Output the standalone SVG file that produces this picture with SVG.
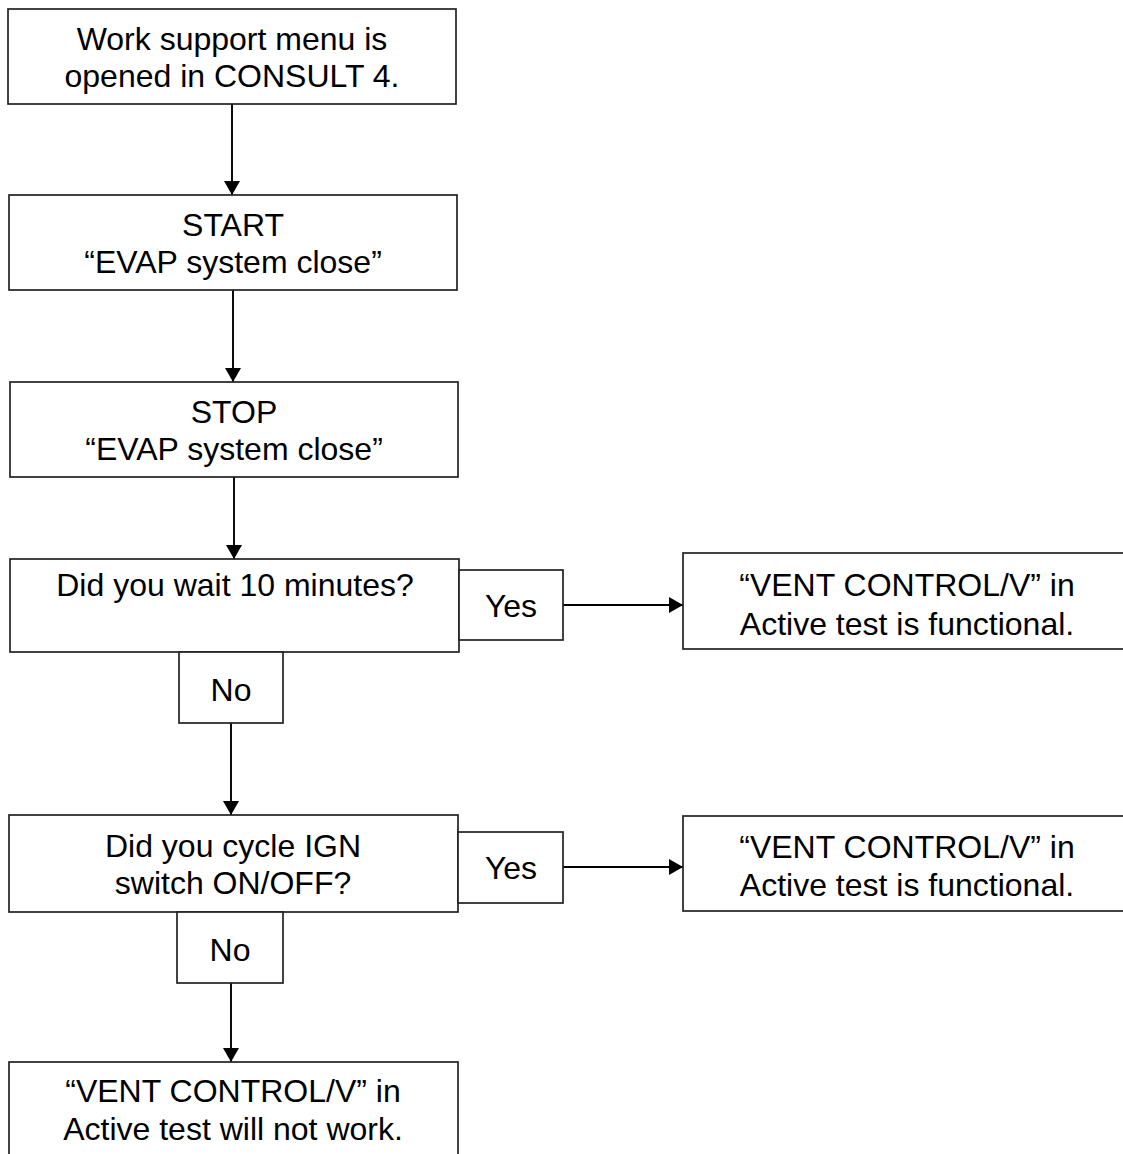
<svg xmlns="http://www.w3.org/2000/svg" width="1123" height="1154" viewBox="0 0 1123 1154">
<style>
  .box { fill: #ffffff; stroke: #222222; stroke-width: 1.7; }
  .t { font-family: "Liberation Sans", Arial, sans-serif; font-size: 32px; fill: #000000; text-anchor: middle; }
  .edge { stroke: #000000; stroke-width: 1.9; fill: none; marker-end: url(#arr); }
</style>
<defs>
  <marker id="arr" viewBox="0 0 14 16" refX="14" refY="8" markerWidth="14" markerHeight="16" markerUnits="userSpaceOnUse" orient="auto">
    <path d="M0,0 L14,8 L0,16 z" fill="#000000"/>
  </marker>
</defs>
<rect width="1123" height="1154" fill="#ffffff"/>

<g id="connectors">
  <line class="edge" x1="232" y1="104" x2="232" y2="195"/>
  <line class="edge" x1="233" y1="290" x2="233" y2="382"/>
  <line class="edge" x1="234" y1="477" x2="234" y2="559"/>
  <line class="edge" x1="563" y1="605" x2="683" y2="605"/>
  <line class="edge" x1="231" y1="723" x2="231" y2="815"/>
  <line class="edge" x1="563" y1="867" x2="683" y2="867"/>
  <line class="edge" x1="231" y1="983" x2="231" y2="1062"/>
</g>

<g id="n1">
  <rect class="box" x="8" y="9" width="448" height="95"/>
  <text class="t" x="232" y="50">Work support menu is</text>
  <text class="t" x="232" y="87">opened in CONSULT 4.</text>
</g>
<g id="n2">
  <rect class="box" x="9" y="195" width="448" height="95"/>
  <text class="t" x="233" y="236">START</text>
  <text class="t" x="233" y="273">“EVAP system close”</text>
</g>
<g id="n3">
  <rect class="box" x="10" y="382" width="448" height="95"/>
  <text class="t" x="234" y="423">STOP</text>
  <text class="t" x="234" y="460">“EVAP system close”</text>
</g>
<g id="n4">
  <rect class="box" x="10" y="559" width="449" height="93"/>
  <text class="t" x="235" y="596">Did you wait 10 minutes?</text>
</g>
<g id="yes1">
  <rect class="box" x="459" y="570" width="104" height="70"/>
  <text class="t" x="511" y="617">Yes</text>
</g>
<g id="r1">
  <rect class="box" x="683" y="553" width="450" height="96"/>
  <text class="t" x="907" y="596">“VENT CONTROL/V” in</text>
  <text class="t" x="907" y="635">Active test is functional.</text>
</g>
<g id="no1">
  <rect class="box" x="179" y="652" width="104" height="71"/>
  <text class="t" x="231" y="701">No</text>
</g>
<g id="n5">
  <rect class="box" x="9" y="815" width="449" height="97"/>
  <text class="t" x="233" y="857">Did you cycle IGN</text>
  <text class="t" x="233" y="894">switch ON/OFF?</text>
</g>
<g id="yes2">
  <rect class="box" x="458" y="832" width="105" height="71"/>
  <text class="t" x="511" y="879">Yes</text>
</g>
<g id="r2">
  <rect class="box" x="683" y="816" width="450" height="95"/>
  <text class="t" x="907" y="858">“VENT CONTROL/V” in</text>
  <text class="t" x="907" y="896">Active test is functional.</text>
</g>
<g id="no2">
  <rect class="box" x="177" y="912" width="106" height="71"/>
  <text class="t" x="230" y="961">No</text>
</g>
<g id="n6">
  <rect class="box" x="9" y="1062" width="449" height="95"/>
  <text class="t" x="233" y="1102">“VENT CONTROL/V” in</text>
  <text class="t" x="233" y="1140">Active test will not work.</text>
</g>
</svg>
